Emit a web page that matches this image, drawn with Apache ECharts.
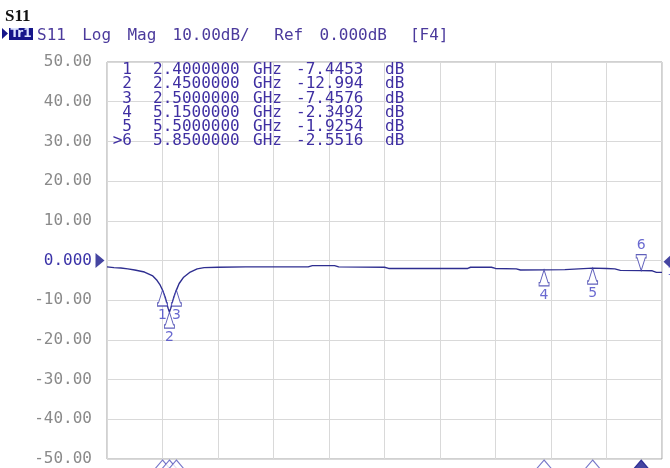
<!DOCTYPE html>
<html><head><meta charset="utf-8">
<script src="https://cdn.jsdelivr.net/npm/echarts@6/dist/echarts.min.js"></script>
<style>html,body{margin:0;padding:0;background:#fff}#c{width:670px;height:468px}</style>
</head><body><div id="c"></div>
<script>
// ---- data ----
const freqGHz = [2.00,2.05,2.10,2.15,2.20,2.27,2.33,2.36,2.38,2.40,2.42,2.44,2.45,2.46,2.48,2.50,2.52,2.55,2.60,2.65,2.70,2.80,3.00,3.20,3.45,3.48,3.64,3.67,4.00,4.03,4.30,4.60,4.62,4.77,4.80,4.95,4.98,5.15,5.30,5.40,5.50,5.60,5.66,5.70,5.85,5.93,5.96,6.00];
const s11dB   = [-1.6,-1.8,-1.9,-2.1,-2.4,-2.9,-3.9,-5.0,-6.0,-7.4453,-9.3,-12.0,-12.994,-12.0,-9.4,-7.4576,-5.8,-4.3,-2.9,-2.1,-1.8,-1.7,-1.6,-1.6,-1.6,-1.3,-1.3,-1.6,-1.7,-2.0,-2.0,-2.0,-1.7,-1.7,-2.0,-2.1,-2.4,-2.3492,-2.3,-2.1,-1.9254,-2.0,-2.1,-2.5,-2.5516,-2.6,-3.0,-3.0];
const markerNames = ['1','2','3','4','5','6'];
const markerFreq  = [2.40,2.45,2.50,5.15,5.50,5.85];
const markerDB    = [-7.4453,-12.994,-7.4576,-2.3492,-1.9254,-2.5516];
const markerFreqText = ['2.4000000','2.4500000','2.5000000','5.1500000','5.5000000','5.8500000'];
const markerDBText   = ['-7.4453','-12.994','-7.4576','-2.3492','-1.9254','-2.5516'];
const activeMarker = 5; // index of marker 6
const headerWords = ['S11','Log','Mag','10.00dB/','Ref','0.000dB','[F4]'];
const headerCharIdx = [0,4,8,12,21,25,33];
const yTickLabels = {50:'50.00',40:'40.00',30:'30.00',20:'20.00',10:'10.00',0:'0.000','-10':'-10.00','-20':'-20.00','-30':'-30.00','-40':'-40.00','-50':'-50.00'};
const xMin = 2, xMax = 6, xStep = 0.4, yMin = -50, yMax = 50, yStep = 10;
const endRefDB = -0.3;

// ---- styles ----
const BLUE = '#3f2fa2', TRACE = '#2e2e90', NAVY = '#16168a';
const MONO = '"DejaVu Sans Mono", "Liberation Mono", monospace';

const trace = freqGHz.map((f,i)=>[f, s11dB[i]]);
const upPath = 'path://M5,0 L9,12 L10,12 L10,15 L0,15 L0,12 L1,12 Z';
const downPath = 'path://M0,0 L10,0 L10,3 L9,3 L5,15 L1,3 L0,3 Z';

const markerData = markerNames.map((n,i)=>{
  const act = i === activeMarker;
  return {
    value:[markerFreq[i], markerDB[i]],
    symbol: act ? downPath : upPath,
    symbolSize:[10,16],
    symbolOffset:[0, act ? -8 : 8],
    label:{show:true, formatter:n, position: act ? 'top' : 'bottom', distance:2,
      color:'#4444c4', fontFamily:'"DejaVu Sans", sans-serif', fontSize:14}
  };
});
const bottomData = markerNames.map((n,i)=>({
  value:[markerFreq[i], yMin],
  itemStyle: i===activeMarker ? {color:NAVY, borderColor:NAVY} : undefined
}));

// graphic texts
const g = [];
g.push({type:'text', left:5, top:8, z:100, style:{text:'S11', font:'bold 17px "Liberation Serif", serif', fill:'#111'}});
g.push({type:'polygon', z:100, shape:{points:[[2,28],[8,33.5],[2,39]]}, style:{fill:NAVY}});
g.push({type:'rect', z:100, shape:{x:9,y:28,width:24,height:12}, style:{fill:NAVY}});
g.push({type:'text', z:101, x:21, y:34, style:{text:'Tr1', font:'bold 12px "DejaVu Sans", sans-serif', fill:'#dde4ff', textAlign:'center', textVerticalAlign:'middle'}});
headerWords.forEach((w,i)=>{
  g.push({type:'text', z:100, x:37 + headerCharIdx[i]*11.3, y:36, style:{text:w, font:'16px '+MONO, fill:'#4b3a9c', textVerticalAlign:'middle'}});
});
const rowY = [70,84.3,98.5,112.8,127,141.3];
markerNames.forEach((n,i)=>{
  const y = rowY[i];
  const st = (t,x,align)=>({type:'text', z:100, x:x, y:y, style:{text:t, font:'16px '+MONO, fill:BLUE, textAlign:align||'left', textVerticalAlign:'middle'}});
  g.push(st((i===activeMarker?'>':'')+n, 132, 'right'));
  g.push(st(markerFreqText[i], 153));
  g.push(st('GHz', 253));
  g.push(st(markerDBText[i], 296));
  g.push(st('dB', 385));
});

const chart = echarts.init(document.getElementById('c'), null, {renderer:'canvas'});
chart.setOption({
  animation:false,
  backgroundColor:'#fff',
  grid:{left:107, right:8, top:62, bottom:9, show:true, borderColor:'#a3a3a3', borderWidth:1},
  xAxis:{type:'value', min:xMin, max:xMax, interval:xStep,
    axisLine:{show:false}, axisTick:{show:false}, axisLabel:{show:false},
    splitLine:{show:true, lineStyle:{color:'#d9d9d9', width:1}}},
  yAxis:{type:'value', min:yMin, max:yMax, interval:yStep,
    axisLine:{show:false}, axisTick:{show:false},
    axisLabel:{margin:15, fontFamily:MONO, fontSize:16, color:'#8a8a8a',
      formatter:v=> v===0 ? '{z|'+yTickLabels[0]+'}' : yTickLabels[v],
      rich:{z:{color:'#3b33a8', fontFamily:MONO, fontSize:16}}},
    splitLine:{show:true, lineStyle:{color:'#d9d9d9', width:1}}},
  graphic:g,
  series:[
    {type:'line', data:trace, showSymbol:false, lineStyle:{color:TRACE, width:1.4}, z:3},
    {type:'scatter', data:markerData, clip:false, z:4,
      itemStyle:{color:'#fff', borderColor:'#3838aa', borderWidth:1.1}},
    {type:'scatter', data:bottomData, clip:false, z:4, symbol:'triangle', symbolSize:[17,10], symbolOffset:[0,6],
      itemStyle:{color:'#fff', borderColor:'#5555bb', borderWidth:1}},
    {type:'scatter', data:[[xMin,0]], clip:false, z:5, symbol:'path://M0,0 L10,7 L0,14 Z', symbolSize:[9,15], symbolOffset:[-7,0],
      itemStyle:{color:NAVY}},
    {type:'scatter', data:[[xMax,endRefDB]], clip:false, z:5, symbol:'path://M10,0 L0,7 L10,14 Z', symbolSize:[7,13], symbolOffset:[5,0],
      itemStyle:{color:NAVY},
      label:{show:true, formatter:'1', position:'bottom', distance:-2, offset:[4,0], color:'#4444c4', fontSize:12, fontFamily:'"DejaVu Sans", sans-serif'}}
  ]
});
</script></body></html>
